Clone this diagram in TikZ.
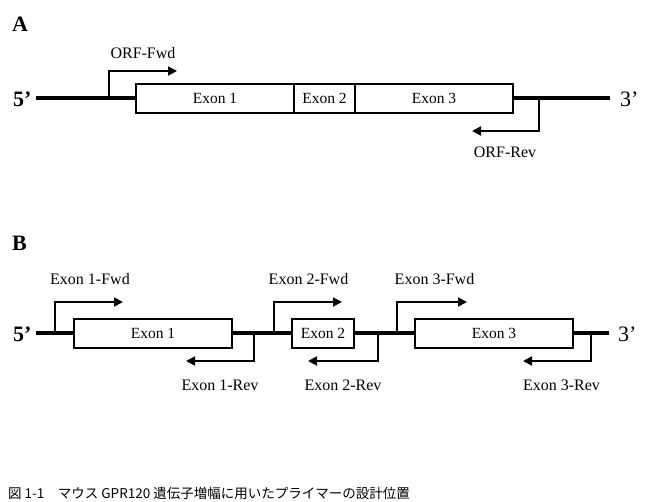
\documentclass[tikz,border=0pt]{standalone}
\usepackage{fontspec}
\setmainfont{Liberation Serif}
\newfontfamily\cjk{Noto Sans CJK JP}
\usetikzlibrary{arrows.meta}
\begin{document}
\begin{tikzpicture}[x=1pt,y=-1pt,
  backbone/.style={line width=4pt},
  exonbox/.style={draw,line width=1.6pt,fill=white,inner sep=0pt,minimum height=29pt,font=\fontsize{15.5}{18}\selectfont},
  primer/.style={line width=1.8pt,-{Triangle[length=9pt,width=9pt]}},
  plabel/.style={anchor=base,inner sep=0pt,font=\fontsize{16}{19}\selectfont},
  endlabel/.style={anchor=base west,inner sep=0pt,font=\fontsize{22}{26}\selectfont},
  panel/.style={anchor=base west,inner sep=0pt,font=\fontsize{22}{26}\selectfont\bfseries}]
\useasboundingbox (0,0) rectangle (645,502);
\fill[white] (0,0) rectangle (645,502);
% ---------- Panel A ----------
\node[panel] (pA) at (12,32) {A};
\node[endlabel,font=\fontsize{22}{26}\selectfont\bfseries] (a5) at (13,107) {5’};
\node[endlabel] (a3) at (620,107) {3’};
\coordinate (aL) at (36,98.5);
\coordinate (aR) at (610,98.5);
\draw[backbone] (aL) -- (aR);
\node[exonbox,minimum width=158pt] (aE1) at (215,98.5) {Exon 1};
\node[exonbox,minimum width=61pt] (aE2) at (324.5,98.5) {Exon 2};
\node[exonbox,minimum width=158pt] (aE3) at (434,98.5) {Exon 3};
\coordinate (afb) at (109,98.5);
\coordinate (aft) at (177,71);
\draw[primer] (afb) |- (aft);
\node[plabel] (afl) at (143,59) {ORF-Fwd};
\coordinate (arb) at (539,98.5);
\coordinate (art) at (472,131);
\draw[primer] (arb) |- (art);
\node[plabel] (arl) at (505,158) {ORF-Rev};
% ---------- Panel B ----------
\node[panel] (pB) at (12,251) {B};
\node[endlabel,font=\fontsize{22}{26}\selectfont\bfseries] (b5) at (13,342) {5’};
\node[endlabel] (b3) at (618,342) {3’};
\coordinate (bL) at (36,333.5);
\coordinate (bR) at (609,333.5);
\draw[backbone] (bL) -- (bR);
\node[exonbox,minimum width=158pt] (bE1) at (153,333.5) {Exon 1};
\node[exonbox,minimum width=62pt] (bE2) at (323,333.5) {Exon 2};
\node[exonbox,minimum width=158pt] (bE3) at (494,333.5) {Exon 3};
% Exon 1 primers
\coordinate (f1b) at (55,333.5);
\coordinate (f1t) at (123,302);
\draw[primer] (f1b) |- (f1t);
\node[plabel] (f1l) at (90,285) {Exon 1-Fwd};
\coordinate (r1b) at (254,333.5);
\coordinate (r1t) at (186,361);
\draw[primer] (r1b) |- (r1t);
\node[plabel] (r1l) at (220,390) {Exon 1-Rev};
% Exon 2 primers
\coordinate (f2b) at (274,333.5);
\coordinate (f2t) at (342,302);
\draw[primer] (f2b) |- (f2t);
\node[plabel] (f2l) at (308.5,285) {Exon 2-Fwd};
\coordinate (r2b) at (378,333.5);
\coordinate (r2t) at (308,361);
\draw[primer] (r2b) |- (r2t);
\node[plabel] (r2l) at (343,390) {Exon 2-Rev};
% Exon 3 primers
\coordinate (f3b) at (397,333.5);
\coordinate (f3t) at (467,302);
\draw[primer] (f3b) |- (f3t);
\node[plabel] (f3l) at (434.5,285) {Exon 3-Fwd};
\coordinate (r3b) at (591,333.5);
\coordinate (r3t) at (523,361);
\draw[primer] (r3b) |- (r3t);
\node[plabel] (r3l) at (561.5,390) {Exon 3-Rev};
% ---------- Caption ----------
\node[anchor=base west,inner sep=0pt,font=\cjk\fontsize{13.5}{16}\selectfont] (cap) at (8,498) {図 1-1　マウス GPR120 遺伝子増幅に用いたプライマーの設計位置};
\end{tikzpicture}
\end{document}
